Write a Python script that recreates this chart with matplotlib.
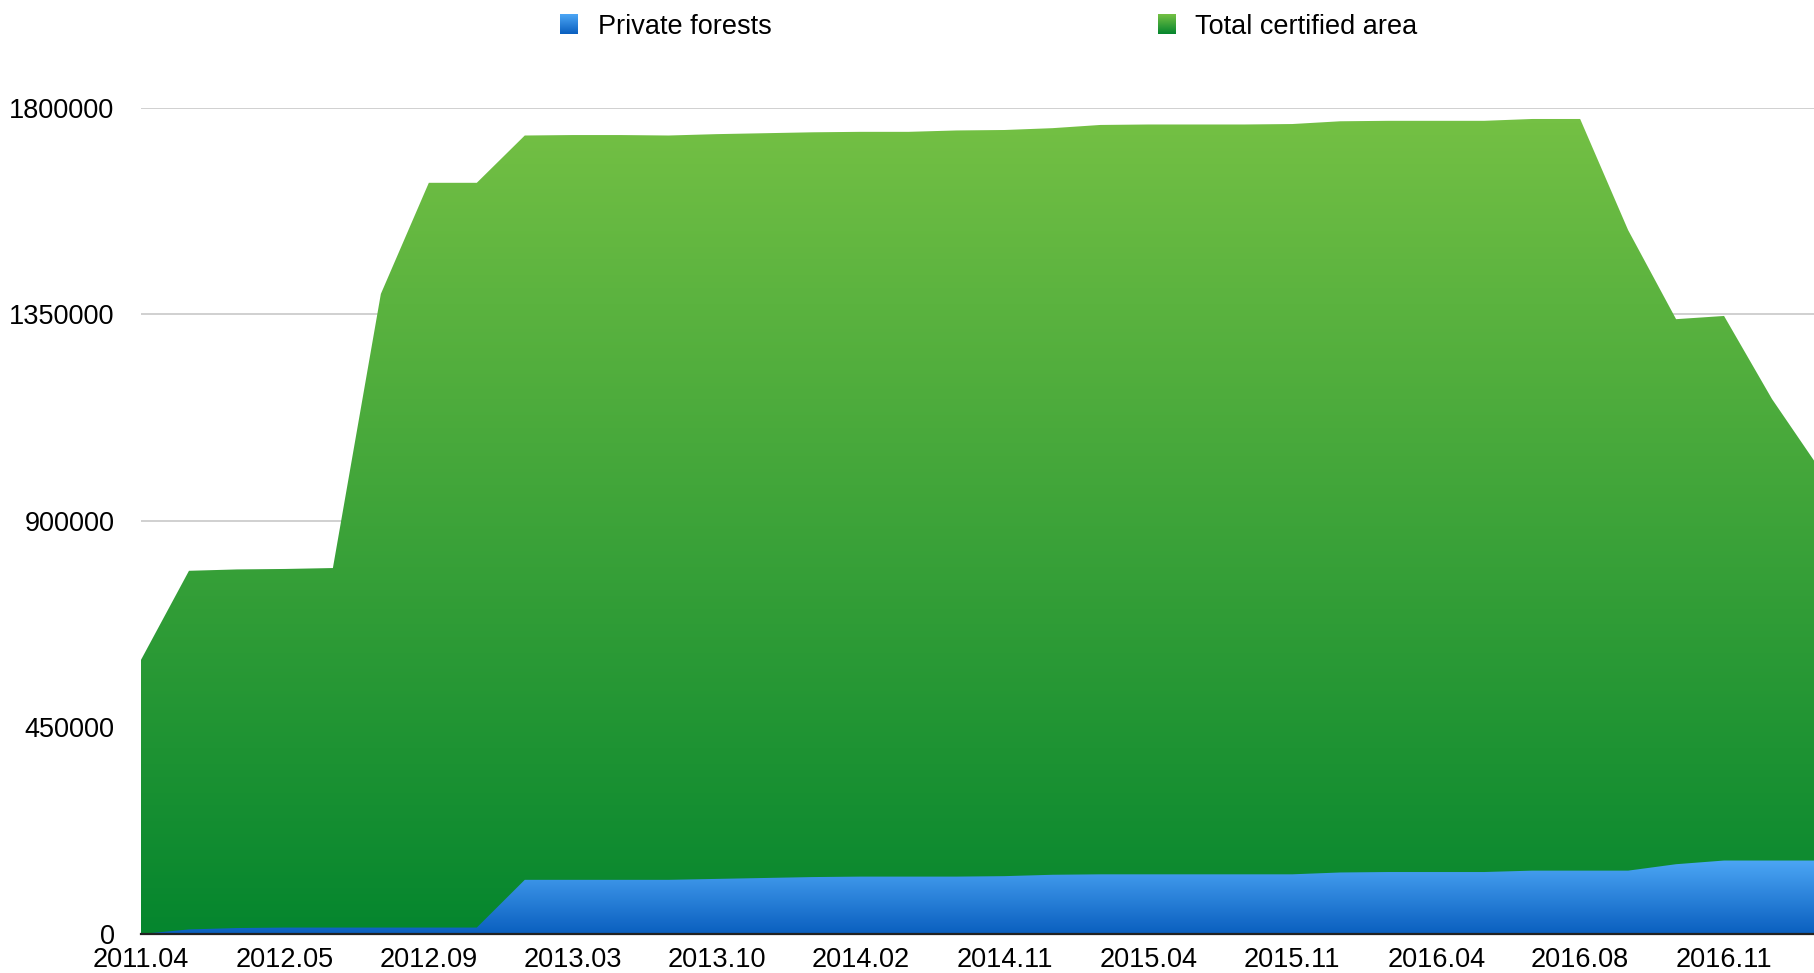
import numpy as np
import matplotlib
matplotlib.use("Agg")
import matplotlib.pyplot as plt
from matplotlib.colors import LinearSegmentedColormap

# data (36 periods, labels shown every 3rd)
tick_labels = ["2011.04", "2012.05", "2012.09", "2013.03", "2013.10", "2014.02",
               "2014.11", "2015.04", "2015.11", "2016.04", "2016.08", "2016.11"]
total_area = [597000, 791000, 794000, 795000, 797000, 1394000, 1636000, 1636000,
              1739000, 1740000, 1740000, 1739000, 1742000, 1744000, 1746000, 1747000,
              1747000, 1750000, 1751000, 1755000, 1762000, 1763000, 1763000, 1763000,
              1764000, 1770000, 1771000, 1771000, 1771000, 1775000, 1775000, 1533000,
              1339000, 1346000, 1165000, 1012000]
private_forests = [0, 10000, 13000, 14000, 14000, 14000, 14000, 14000,
                   118000, 118000, 118000, 118000, 120000, 122000, 124000, 125000,
                   125000, 125000, 126000, 129000, 130000, 130000, 130000, 130000,
                   130000, 134000, 135000, 135000, 135000, 138000, 138000, 138000,
                   152000, 160000, 160000, 160000]
y_ticks = [0, 450000, 900000, 1350000, 1800000]

green = ("#05862e", "#74c044")
blue = ("#0a5fbf", "#4ca6f5")

plt.rcParams['font.family'] = ['Liberation Sans', 'DejaVu Sans']

W, H = 1814, 973
fig = plt.figure(figsize=(W / 100, H / 100), dpi=100)
ax = fig.add_axes([141 / W, 1 - 934 / H, (1820 - 141) / W, (934 - 107.5) / H])

x = np.arange(len(total_area))


def gradient_area(ax, x, y, colors, z):
    y = np.asarray(y, dtype=float)
    poly = ax.fill_between(x, 0, y, color="none", lw=0)
    cmap = LinearSegmentedColormap.from_list("g", list(colors))
    grad = np.linspace(0, 1, 256).reshape(-1, 1)
    im = ax.imshow(grad, extent=[x[0], x[-1], 0, y.max()], origin="lower",
                   aspect="auto", cmap=cmap, zorder=z, interpolation="bilinear")
    im.set_clip_path(poly.get_paths()[0], ax.transData)
    poly.remove()


gradient_area(ax, x, total_area, green, 2)
gradient_area(ax, x, private_forests, blue, 3)

ax.set_xlim(0, len(x) - 1)
ax.set_ylim(0, 1800000)
ax.set_yticks(y_ticks)
ax.set_yticklabels([str(v) for v in y_ticks])
ax.set_xticks(x[::3])
ax.set_xticklabels(tick_labels)
ax.yaxis.grid(True, color="#c8c8c8", lw=1.2)
ax.set_axisbelow(True)
ax.tick_params(axis="both", length=0, labelsize=19.5, colors="black")
ax.tick_params(axis="y", pad=19)
ax.tick_params(axis="x", pad=9.5)
for s in ["top", "right", "left"]:
    ax.spines[s].set_visible(False)
ax.spines["bottom"].set_color("#222222")
ax.spines["bottom"].set_linewidth(1.6)
ax.spines["bottom"].set_zorder(5)

# legend with gradient swatches
grad = np.linspace(0, 1, 64).reshape(-1, 1)
for sx, tx, cols, label in [(560, 598, blue, "Private forests"),
                            (1158, 1195, green, "Total certified area")]:
    sw = fig.add_axes([sx / W, 1 - 34 / H, 18 / W, 20 / H])
    sw.imshow(grad, origin="lower", aspect="auto",
              cmap=LinearSegmentedColormap.from_list("s", list(cols)))
    sw.axis("off")
    fig.text(tx / W, 1 - 26.5 / H, label, fontsize=19.5, va="center", ha="left")

fig.savefig("out.png", dpi=100)
